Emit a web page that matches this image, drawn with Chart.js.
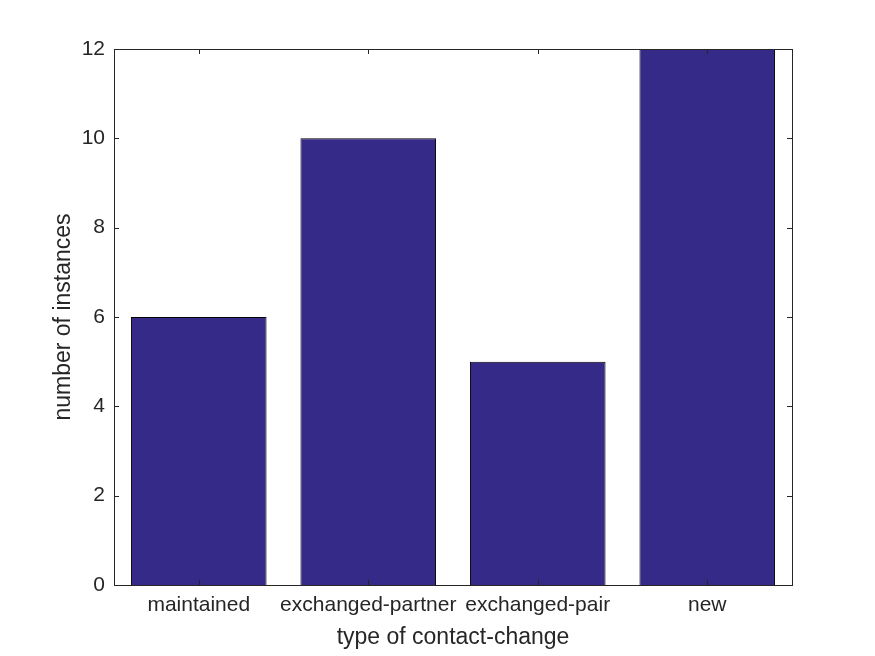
<!DOCTYPE html>
<html>
<head>
<meta charset="utf-8">
<script src="https://cdn.jsdelivr.net/npm/chart.js@4/dist/chart.umd.min.js"></script>
<style>
  html, body { margin: 0; padding: 0; background: #fff; }
  #wrap { width: 875px; height: 656px; }
</style>
</head>
<body>
<div id="wrap"><canvas id="bars"></canvas></div>
<script>
const categories = ['maintained', 'exchanged-partner', 'exchanged-pair', 'new'];
const instances = [6, 10, 5, 12];
const yTicks = [0, 2, 4, 6, 8, 10, 12];

Chart.defaults.font.family = '"Liberation Sans", Arial, sans-serif';
Chart.defaults.color = '#262626';

// box around the axes with inward tick marks, matlab style
const boxTicks = {
  id: 'boxTicks',
  afterDatasetsDraw(chart) {
    const ctx = chart.ctx;
    const a = chart.chartArea;
    const x = chart.scales.x, y = chart.scales.y;
    const len = 5;
    ctx.save();
    ctx.strokeStyle = '#262626';
    ctx.lineWidth = 1;
    ctx.beginPath();
    x.ticks.forEach((t, i) => {
      const px = Math.round(x.getPixelForTick(i)) + 0.5;
      ctx.moveTo(px, a.bottom); ctx.lineTo(px, a.bottom - len);
      ctx.moveTo(px, a.top); ctx.lineTo(px, a.top + len);
    });
    y.ticks.forEach((t, i) => {
      const py = Math.round(y.getPixelForTick(i)) + 0.5;
      ctx.moveTo(a.left, py); ctx.lineTo(a.left + len, py);
      ctx.moveTo(a.right, py); ctx.lineTo(a.right - len, py);
    });
    ctx.stroke();
    ctx.strokeRect(Math.round(a.left) + 0.5, Math.round(a.top) + 0.5,
      Math.round(a.right - a.left), Math.round(a.bottom - a.top));
    ctx.restore();
  }
};

new Chart(document.getElementById('bars'), {
  type: 'bar',
  data: {
    labels: categories,
    datasets: [{
      data: instances,
      backgroundColor: '#352A87',
      borderColor: '#000000',
      borderWidth: 1,
      barPercentage: 0.8,
      categoryPercentage: 1.0
    }]
  },
  options: {
    responsive: true,
    maintainAspectRatio: false,
    animation: false,
    layout: { padding: { left: 0, top: 49, right: 83, bottom: 0 } },
    plugins: { legend: { display: false }, tooltip: { enabled: false } },
    scales: {
      x: {
        offset: true,
        grid: { display: false, drawTicks: false },
        border: { display: false },
        ticks: { font: { size: 21 }, padding: 8, maxRotation: 0, autoSkip: false },
        title: { display: true, text: 'type of contact-change', font: { size: 23 }, padding: { top: 0, bottom: 5 } },
        afterFit(s) { s.height = 71; }
      },
      y: {
        min: 0,
        max: 12,
        afterBuildTicks(s) { s.ticks = yTicks.map(v => ({ value: v })); },
        grid: { display: false, drawTicks: false },
        border: { display: false },
        ticks: { font: { size: 21 }, padding: 9 },
        title: { display: true, text: 'number of instances', font: { size: 23 }, padding: { top: 50, bottom: 0 } },
        afterFit(s) { s.width = 114; }
      }
    }
  },
  plugins: [boxTicks]
});
</script>
</body>
</html>
